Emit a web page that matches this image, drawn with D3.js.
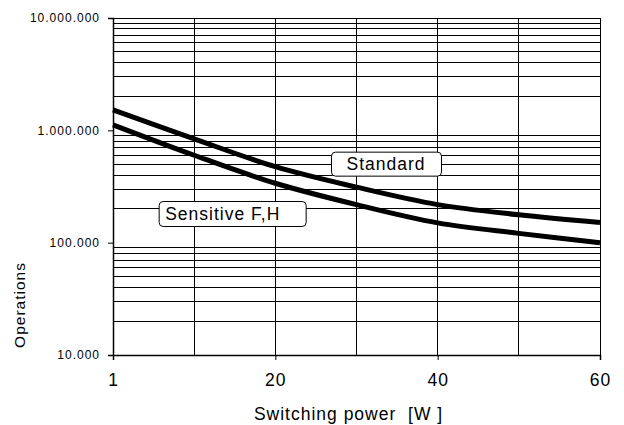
<!DOCTYPE html>
<html>
<head>
<meta charset="utf-8">
<script src="https://cdn.jsdelivr.net/npm/d3@7"></script>
<style>
  html, body { margin: 0; padding: 0; background: #fff; }
  svg { display: block; font-family: "Liberation Sans", Arial, sans-serif; }
  text { white-space: pre; }
</style>
</head>
<body>
<main></main>
<script>
// categories on x (evenly spaced, as in the original)
const powers = ['1', '10', '20', '30', '40', '50', '60'];
const powerLabels = ['1', '20', '40', '60'];

// operations per curve
const standard = [1520000, 840000, 475000, 312000, 218000, 177000, 151000];
const sensitive = [1120000, 600000, 338000, 218000, 150000, 121000, 100000];

const seriesNames = ['Standard', 'Sensitive F,H'];

// y ticks
const yTicks = [10000, 100000, 1000000, 10000000];
const yTickLabels = ['10.000', '100.000', '1.000.000', '10.000.000'];

// label boxes: category and value where they sit
const labelAt = [['30', 500000], ['10', 180000]];

const svgWidth = 624, svgHeight = 425;
const margin = { top: 18, right: 24, bottom: 70, left: 113 };
const width = svgWidth - margin.left - margin.right;
const height = svgHeight - margin.top - margin.bottom;

const svg = d3.select('main').append('svg')
    .attr('width', svgWidth)
    .attr('height', svgHeight);

const g = svg.append('g')
    .attr('transform', `translate(${margin.left},${margin.top})`);

const x = d3.scalePoint().domain(powers).range([0, width]);
const y = d3.scaleLog().domain([10000, 10000000]).range([height, 0]);

// horizontal grid (all decades 1..9)
const gridValues = [];
for (let e = 4; e < 7; e++) {
    for (let m = 2; m <= 9; m++) gridValues.push(m * Math.pow(10, e));
}
g.selectAll('.hgrid')
    .data(gridValues.concat([10000000]))
    .enter().append('line')
    .attr('x1', 0).attr('x2', width)
    .attr('y1', d => y(d)).attr('y2', d => y(d))
    .attr('stroke', '#000').attr('stroke-width', 1)
    .attr('shape-rendering', 'crispEdges');

// vertical grid
g.selectAll('.vgrid')
    .data(powers.slice(1))
    .enter().append('line')
    .attr('x1', d => x(d)).attr('x2', d => x(d))
    .attr('y1', 0).attr('y2', height)
    .attr('stroke', '#000').attr('stroke-width', 1)
    .attr('shape-rendering', 'crispEdges');

// Eixo x
const xAxis = g.append('g')
    .attr('transform', `translate(0,${height})`)
    .call(d3.axisBottom(x).tickValues(powerLabels).tickSize(5).tickPadding(14));
xAxis.select('.domain').attr('stroke-width', 1.5);
xAxis.selectAll('text')
    .attr('font-size', '17.5px').attr('letter-spacing', '1px').attr('fill', '#000');

// Eixo y
const yAxis = g.append('g')
    .call(d3.axisLeft(y).tickValues(yTicks)
        .tickFormat((d, i) => yTickLabels[i]).tickSize(5).tickPadding(8));
yAxis.select('.domain').attr('stroke-width', 1.5);
yAxis.selectAll('text')
    .attr('font-size', '12px').attr('letter-spacing', '1px').attr('fill', '#000');

// curves
const line = d3.line()
    .x((d, i) => x(powers[i]))
    .y(d => y(d))
    .curve(d3.curveCatmullRom.alpha(0.5));

g.selectAll('.curve')
    .data([standard, sensitive])
    .enter().append('path')
    .attr('d', line)
    .attr('fill', 'none')
    .attr('stroke', '#000')
    .attr('stroke-width', 5);

// label boxes
const boxLayout = [
    { dx: -25, w: 110, h: 24, pad: 15 },
    { dx: -35, w: 147, h: 25, pad: 6 }
];
seriesNames.forEach((name, i) => {
    const [cat, val] = labelAt[i];
    const b = boxLayout[i];
    const bx = x(cat) + b.dx, by = y(val) - b.h / 2;
    g.append('rect')
        .attr('x', bx).attr('y', by)
        .attr('width', b.w).attr('height', b.h)
        .attr('rx', 4)
        .attr('fill', '#fff').attr('stroke', '#000').attr('stroke-width', 1);
    g.append('text')
        .attr('x', bx + b.pad).attr('y', by + b.h / 2)
        .attr('dy', '0.35em')
        .attr('font-size', '17.5px').attr('letter-spacing', '1px')
        .text(name);
});

// axis titles
svg.append('text')
    .attr('x', margin.left + width / 2 - 8).attr('y', 420)
    .attr('text-anchor', 'middle')
    .attr('font-size', '17.5px').attr('letter-spacing', '1px')
    .text('Switching power  [W ]');

svg.append('text')
    .attr('transform', 'translate(25,305) rotate(-90)')
    .attr('text-anchor', 'middle')
    .attr('font-size', '15.5px').attr('letter-spacing', '1px')
    .text('Operations');
</script>
</body>
</html>
